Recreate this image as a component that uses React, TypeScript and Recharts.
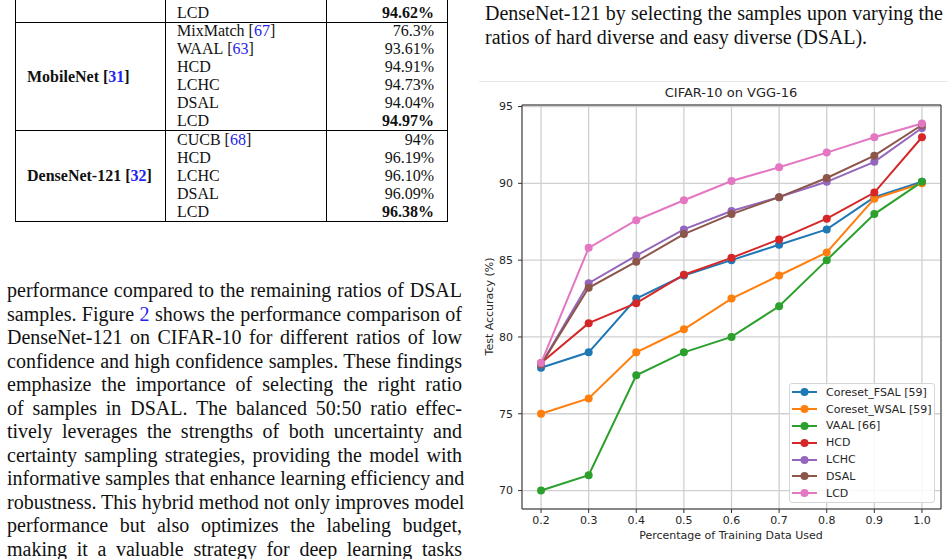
import React from "react"
import { LineChart, Line, XAxis, YAxis, CartesianGrid, Legend, ReferenceLine } from "recharts"

// Fraction of the CIFAR-10 training set used at each round
const fractions = [0.2, 0.3, 0.4, 0.5, 0.6, 0.7, 0.8, 0.9, 1.0]

// Test accuracy (%) per method
const coresetFsal = [78.0, 79.0, 82.5, 84.0, 85.0, 86.0, 87.0, 89.1, 90.1]
const coresetWsal = [75.0, 76.0, 79.0, 80.5, 82.5, 84.0, 85.5, 89.0, 90.0]
const vaal = [70.0, 71.0, 77.5, 79.0, 80.0, 82.0, 85.0, 88.0, 90.1]
const hcd = [78.3, 80.9, 82.2, 84.05, 85.15, 86.35, 87.7, 89.4, 93.0]
const lchc = [78.2, 83.5, 85.3, 87.0, 88.2, 89.1, 90.1, 91.4, 93.6]
const dsal = [78.2, 83.2, 84.9, 86.7, 88.0, 89.1, 90.35, 91.8, 93.8]
const lcd = [78.3, 85.8, 87.6, 88.9, 90.15, 91.05, 92.0, 93.0, 93.9]

const xTicks = [0.2, 0.3, 0.4, 0.5, 0.6, 0.7, 0.8, 0.9, 1.0]
const yTicks = [70, 75, 80, 85, 90, 95]

const series = [
  { key: "fsal", name: "Coreset_FSAL [59]", color: "#1f77b4", values: coresetFsal },
  { key: "wsal", name: "Coreset_WSAL [59]", color: "#ff7f0e", values: coresetWsal },
  { key: "vaal", name: "VAAL [66]", color: "#2ca02c", values: vaal },
  { key: "hcd", name: "HCD", color: "#d62728", values: hcd },
  { key: "lchc", name: "LCHC", color: "#9467bd", values: lchc },
  { key: "dsal", name: "DSAL", color: "#8c564b", values: dsal },
  { key: "lcd", name: "LCD", color: "#e377c2", values: lcd },
]

const chartData = fractions.map((x, i) => {
  const row: Record<string, number> = { x }
  series.forEach((s) => {
    row[s.key] = s.values[i]
  })
  return row
})

// Table rows: [method, citation, accuracy, best?]
type Row = [string, string, string, boolean]
const mobileNetRows: Row[] = [
  ["MixMatch", "67", "76.3%", false],
  ["WAAL", "63", "93.61%", false],
  ["HCD", "", "94.91%", false],
  ["LCHC", "", "94.73%", false],
  ["DSAL", "", "94.04%", false],
  ["LCD", "", "94.97%", true],
]
const denseNetRows: Row[] = [
  ["CUCB", "68", "94%", false],
  ["HCD", "", "96.19%", false],
  ["LCHC", "", "96.10%", false],
  ["DSAL", "", "96.09%", false],
  ["LCD", "", "96.38%", true],
]

const paragraph = [
  "performance compared to the remaining ratios of DSAL",
  "samples. Figure |2| shows the performance comparison of",
  "DenseNet-121 on CIFAR-10 for different ratios of low",
  "confidence and high confidence samples. These findings",
  "emphasize the importance of selecting the right ratio",
  "of samples in DSAL. The balanced 50:50 ratio effec-",
  "tively leverages the strengths of both uncertainty and",
  "certainty sampling strategies, providing the model with",
  "informative samples that enhance learning efficiency and",
  "robustness. This hybrid method not only improves model",
  "performance but also optimizes the labeling budget,",
  "making it a valuable strategy for deep learning tasks",
]

const serif = "'Liberation Serif', 'Times New Roman', serif"
const sans = "'DejaVu Sans', sans-serif"
const linkBlue = "#2424f0"

function withCite(text: string, n: string) {
  return (
    <span>
      {text}
      {n && (
        <>
          {"\u00a0["}
          <span style={{ color: linkBlue }}>{n}</span>
          {"]"}
        </>
      )}
    </span>
  )
}

function TableBlock({ top, height, label = "", cite = "", rows }: { top: number; height: number; label?: string; cite?: string; rows: Row[] }) {
  return (
    <div
      style={{
        position: "absolute",
        left: 15,
        top,
        width: 433,
        height,
        boxSizing: "border-box",
        border: "1px solid #000",
        borderTop: "none",
        display: "flex",
        fontFamily: serif,
        fontSize: 16,
        color: "#111",
      }}
    >
      <div
        style={{
          width: 150,
          boxSizing: "border-box",
          borderRight: "1px solid #000",
          display: "flex",
          alignItems: "center",
          paddingLeft: 11,
          fontWeight: "bold",
        }}
      >
        {label && withCite(label, cite)}
      </div>
      <div
        style={{
          width: 161,
          boxSizing: "border-box",
          borderRight: "1px solid #000",
          display: "flex",
          flexDirection: "column",
          justifyContent: "flex-end",
        }}
      >
        {rows.map((r, i) => (
          <div key={i} style={{ height: 18, lineHeight: "18px", paddingLeft: 11 }}>
            {withCite(r[0], r[1])}
          </div>
        ))}
      </div>
      <div style={{ flex: 1, display: "flex", flexDirection: "column", justifyContent: "flex-end" }}>
        {rows.map((r, i) => (
          <div key={i} style={{ height: 18, lineHeight: "18px", textAlign: "right", paddingRight: 13, fontWeight: r[3] ? "bold" : "normal" }}>
            {r[2]}
          </div>
        ))}
      </div>
    </div>
  )
}

function TextLine({ text, left, top, width, justify = true }: { text: string; left: number; top: number; width: number; justify?: boolean }) {
  const parts = text.split("|")
  return (
    <div
      style={{
        position: "absolute",
        left,
        top,
        width,
        height: 24,
        lineHeight: "23.5px",
        fontFamily: serif,
        fontSize: 20,
        color: "#111",
        textAlign: justify ? "justify" : "left",
        textAlignLast: justify ? "justify" : "left",
        whiteSpace: "nowrap",
      }}
    >
      {parts.map((p, i) => (i % 2 === 1 ? <span key={i} style={{ color: linkBlue }}>{p}</span> : <span key={i}>{p}</span>))}
    </div>
  )
}

function LegendBox() {
  return (
    <div
      style={{
        width: 144,
        height: 118,
        border: "1px solid #d6d6d6",
        borderRadius: 3,
        background: "rgba(255,255,255,0.85)",
        fontFamily: sans,
        fontSize: 11,
        color: "#262626",
      }}
    >
      {series.map((s) => (
        <div key={s.key} style={{ height: 16.8, display: "flex", alignItems: "center" }}>
          <svg width={34} height={10} style={{ marginLeft: 2 }}>
            <line x1={0} y1={5} x2={25} y2={5} stroke={s.color} strokeWidth={2} />
            <circle cx={12.5} cy={5} r={4} fill={s.color} />
          </svg>
          <span>{s.name}</span>
        </div>
      ))}
    </div>
  )
}

export default function App() {
  return (
    <div style={{ position: "absolute", left: 0, top: 0, width: 948, height: 559, overflow: "hidden", background: "#fff" }}>
      {/* results table */}
      <TableBlock top={-10} height={33} rows={[["LCD", "", "94.62%", true]]} />
      <TableBlock top={23} height={108} label="MobileNet" cite="31" rows={mobileNetRows} />
      <TableBlock top={131} height={91} label="DenseNet-121" cite="32" rows={denseNetRows} />

      {/* body text */}
      {paragraph.map((t, i) => (
        <TextLine key={i} text={t} left={7} top={279 + i * 23.5} width={455} />
      ))}
      <TextLine text="DenseNet-121 by selecting the samples upon varying the" left={485} top={2} width={458} />
      <TextLine text="ratios of hard diverse and easy diverse (DSAL)." left={485} top={25.5} width={458} justify={false} />

      {/* figure */}
      <div style={{ position: "absolute", left: 479, top: 81, width: 469, height: 1, background: "#e8e8e8" }} />
      <div style={{ position: "absolute", left: 480, top: 81, width: 468, height: 478 }}>
        <div
          style={{ position: "absolute", left: 0, top: 4, width: 502, textAlign: "center", fontFamily: sans, fontSize: 13, color: "#262626" }}
        >
          CIFAR-10 on VGG-16
        </div>
        <div
          style={{ position: "absolute", left: 0, top: 448, width: 502, textAlign: "center", fontFamily: sans, fontSize: 11, color: "#262626" }}
        >
          Percentage of Training Data Used
        </div>
        <div style={{ position: "absolute", left: 9, top: 226, width: 0, height: 0, fontFamily: sans, fontSize: 11, color: "#262626" }}>
          <div style={{ position: "absolute", left: -60, top: -7, width: 120, textAlign: "center", transform: "rotate(-90deg)", whiteSpace: "nowrap" }}>
            Test Accuracy (%)
          </div>
        </div>
        <LineChart width={468} height={478} data={chartData} margin={{ top: 24, right: 7, left: 0, bottom: 0 }}>
          <CartesianGrid stroke="#cfcfcf" strokeWidth={1.3} />
          <XAxis
            dataKey="x"
            type="number"
            domain={[0.16, 1.04]}
            ticks={xTicks}
            allowDataOverflow
            tickFormatter={(v: number) => v.toFixed(1)}
            height={50}
            tickSize={4}
            tickMargin={3}
            stroke="#333"
            tick={{ fill: "#262626", fontSize: 11, fontFamily: sans }}
          />
          <YAxis
            type="number"
            domain={[68.8, 95.1]}
            ticks={yTicks}
            allowDataOverflow
            width={42}
            tickSize={4}
            tickMargin={5}
            stroke="#333"
            tick={{ fill: "#262626", fontSize: 11, fontFamily: sans }}
          />
          <ReferenceLine y={95.1} stroke="#333" />
          <ReferenceLine x={1.04} stroke="#333" />
          {series.map((s) => (
            <Line
              key={s.key}
              dataKey={s.key}
              name={s.name}
              stroke={s.color}
              strokeWidth={2}
              dot={{ r: 4, fill: s.color, stroke: s.color, strokeWidth: 0 }}
              activeDot={false}
              isAnimationActive={false}
            />
          ))}
          <Legend
            layout="horizontal"
            verticalAlign="middle"
            align="center"
            wrapperStyle={{ left: 309, top: 302, width: 146 }}
            content={() => <LegendBox />}
          />
        </LineChart>
      </div>
    </div>
  )
}
